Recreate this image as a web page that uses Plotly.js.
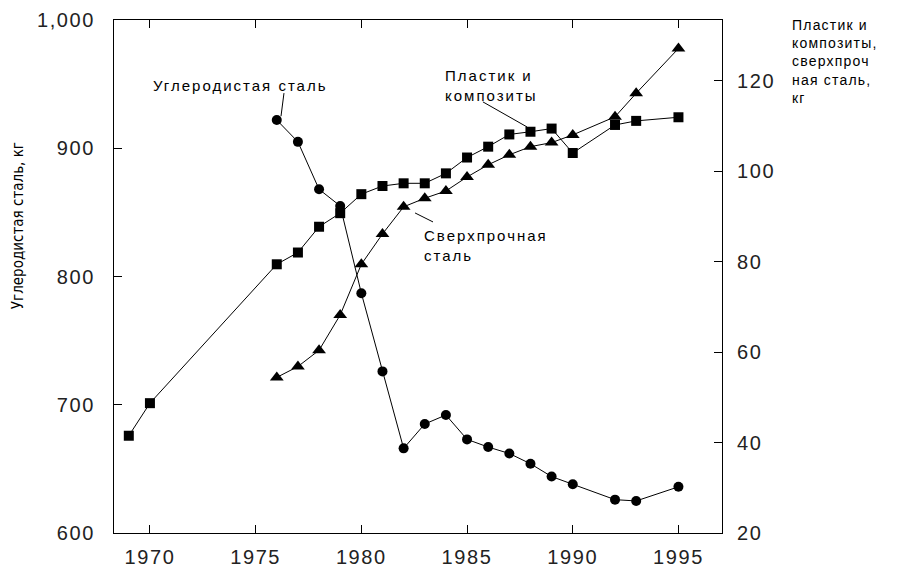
<!DOCTYPE html>
<html>
<head>
<meta charset="utf-8">
<script src="https://cdn.plot.ly/plotly-3.0.1.min.js"></script>
<style>html,body{margin:0;padding:0;background:#fff;}</style>
</head>
<body>
<div id="chart" style="width:902px;height:571px;"></div>
<script>
// Carbon steel (left axis, kg)
const carbonYears = [1976,1977,1978,1979,1980,1981,1982,1983,1984,1985,1986,1987,1988,1989,1990,1992,1993,1995];
const carbonSteel = [922,905,868,855,787,726,666,685,692,673,667,662,654,644,638,626,625,636];
// Plastics and composites (right axis, kg)
const plasticYears = [1969,1970,1976,1977,1978,1979,1980,1981,1982,1983,1984,1985,1986,1987,1988,1989,1990,1992,1993,1995];
const plastics = [41.5,48.7,79.4,82.0,87.7,90.7,94.9,96.7,97.3,97.3,99.5,103.0,105.4,108.1,108.7,109.4,104.0,110.2,111.1,111.9];
// High-strength steel (right axis, kg)
const hssYears = [1976,1977,1978,1979,1980,1981,1982,1983,1984,1985,1986,1987,1988,1989,1990,1992,1993,1995];
const hsSteel = [54.4,56.8,60.4,68.2,79.4,86.1,92.1,94.0,95.6,98.7,101.4,103.6,105.4,106.3,108.0,112.0,117.2,127.1];
// Ticks
const xTicks = [1970,1975,1980,1985,1990,1995];
const yLeftTicks = [600,700,800,900,1000];
const yRightTicks = [20,40,60,80,100,120];

const FONT = 'Liberation Sans, Arial, sans-serif';
const sp = (t, s) => '<span style="letter-spacing:' + s + 'px">' + t + '</span>';
const tickText = (arr, sep) => arr.map(v => sp(sep ? v.toLocaleString('en-US') : String(v), 1.6));

const lineStyle = {color:'#000', width:1};
const traces = [
  {x: carbonYears, y: carbonSteel, type:'scatter', mode:'lines+markers', yaxis:'y',
   line: lineStyle, marker:{symbol:'circle', size:10, color:'#000'}},
  {x: plasticYears, y: plastics, type:'scatter', mode:'lines+markers', yaxis:'y2',
   line: lineStyle, marker:{symbol:'square', size:10, color:'#000'}},
  {x: hssYears, y: hsSteel, type:'scatter', mode:'lines+markers', yaxis:'y2',
   line: lineStyle, marker:{symbol:'triangle-up', size:12, color:'#000'}}
];

const annFont = {family: FONT, size: 15, color:'#000'};
const tickFont = {family:FONT, size:20, color:'#222'};
const layout = {
  width: 902, height: 571,
  margin: {l:114, r:180, t:20, b:38, pad:0},
  paper_bgcolor:'#fff', plot_bgcolor:'#fff',
  showlegend: false,
  font: {family: FONT, color:'#000'},
  xaxis: {range:[1968.3,1997.06], tickvals:xTicks, ticktext:tickText(xTicks, false), ticks:'inside', ticklen:8, tickcolor:'#000',
          showline:true, linecolor:'#000', linewidth:1, mirror:'ticks', showgrid:false, zeroline:false,
          tickfont:tickFont, ticklabelstandoff:6},
  yaxis: {range:[600,1000], tickvals:yLeftTicks, ticktext:tickText(yLeftTicks, true), ticks:'inside', ticklen:8, tickcolor:'#000',
          showline:true, linecolor:'#000', linewidth:1, showgrid:false, zeroline:false,
          tickfont:tickFont, ticklabelstandoff:14},
  yaxis2: {range:[20,133.4], tickvals:yRightTicks, ticktext:tickText(yRightTicks, false), overlaying:'y', side:'right', ticks:'inside', ticklen:8, tickcolor:'#000',
          showline:true, linecolor:'#000', linewidth:1, showgrid:false, zeroline:false,
          tickfont:tickFont, ticklabelstandoff:10},
  shapes: [
    {type:'line', xref:'x', yref:'y', x0:1976.34, y0:943, x1:1976.2, y1:925, line:{color:'#000', width:1}},
    {type:'line', xref:'x', yref:'y2', x0:1985.75, y0:115.3, x1:1987.84, y1:109.75, line:{color:'#000', width:1}},
    {type:'line', xref:'x', yref:'y2', x0:1982.54, y0:90.75, x1:1983.39, y1:88.76, line:{color:'#000', width:1}}
  ],
  annotations: [
    {text: sp('Углеродистая сталь',2), xref:'paper', yref:'paper', x:0.208, y:0.873, xanchor:'center', yanchor:'middle', showarrow:false, font:annFont},
    {text: sp('Пластик и',2)+'<br>'+sp('композиты',2), xref:'paper', yref:'paper', x:0.541, y:0.873, xanchor:'left', yanchor:'middle', align:'left', showarrow:false, font:annFont},
    {text: sp('Сверхпрочная',2)+'<br>'+sp('сталь',2), xref:'paper', yref:'paper', x:0.506, y:0.560, xanchor:'left', yanchor:'middle', align:'left', showarrow:false, font:annFont},
    {text: sp('Пластик и',1.2)+'<br>'+sp('композиты,',1.2)+'<br>'+sp('сверхпроч',1.2)+'<br>'+sp('ная сталь,',1.2)+'<br>'+sp('кг',1.2),
     xref:'paper', yref:'paper', x:1.112, y:0.920, xanchor:'left', yanchor:'middle', align:'left', showarrow:false,
     font:{family:FONT, size:14, color:'#000'}},
    {text: 'Углеродистая сталь, кг', xref:'paper', yref:'paper', x:-0.158, y:0.60, xanchor:'center', yanchor:'middle',
     textangle:-90, showarrow:false, font:{family:'Liberation Sans Narrow, DejaVu Sans Condensed, sans-serif', size:15, color:'#000'}}
  ]
};
Plotly.newPlot('chart', traces, layout, {displayModeBar:false, staticPlot:true});
</script>
</body>
</html>
